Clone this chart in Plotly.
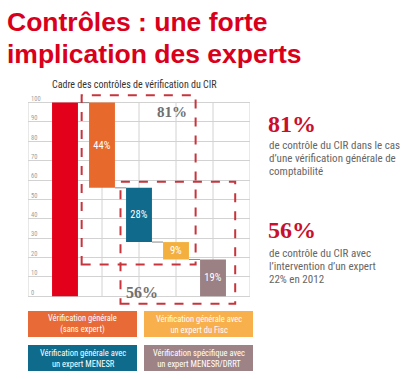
import plotly.graph_objects as go

# ---- data ----
total_label = "Total"
total_value = 100
step_labels = ["Vérification générale (sans expert)",
               "Vérification générale avec un expert MENESR",
               "Vérification générale avec un expert du Fisc",
               "Vérification spécifique avec un expert MENESR/DRRT"]
step_values = [44, 28, 9, 19]
step_text = ["44%", "28%", "9%", "19%"]
bar_colors = ["#e2001a", "#e8692c", "#0f6a8b", "#f4b03e", "#9b8084"]
y_ticks = list(range(0, 101, 10))
box1_value = "81%"
box2_value = "56%"

legend_items = [
    ("Vérification générale<br>(sans expert)", "#e86a36"),
    ("Vérification générale avec<br>un expert du Fisc", "#f7b04b"),
    ("Vérification générale avec<br>un expert MENESR", "#0e6b8c"),
    ("Vérification spécifique avec<br>un expert MENESR/DRRT", "#9d8386"),
]

# waterfall bases
x_pos = list(range(len(step_values) + 1))
lengths = [total_value] + step_values
bases = [0]
level = total_value
for i, v in enumerate(step_values):
    if i < len(step_values) - 1:
        level -= v
        bases.append(level)
    else:
        bases.append(0)
texts = [""] + step_text

# ---- layout geometry ----
W, H = 413, 379
ML, MR, MT, MB = 28, 163, 91, 74
PW = W - ML - MR
PH = H - MT - MB
def fx(px):
    return (px - ML) / PW
def fy(py):
    return (H - MB - py) / PH

NARROW = "Liberation Sans Narrow, Roboto Condensed, Arial Narrow, Roboto, sans-serif"
SERIF = "Liberation Serif, DejaVu Serif, serif"

fig = go.Figure()
fig.add_trace(go.Bar(
    x=x_pos, y=lengths, base=bases, width=0.7,
    marker=dict(color=bar_colors, line=dict(width=0)),
    text=texts, textposition="inside", insidetextanchor="middle",
    textangle=0, constraintext="none",
    textfont=dict(color="white", size=10.5, family=NARROW),
    hoverinfo="skip", showlegend=False,
))

shapes = []
GRID = "#d2d2d2"
# vertical gridlines (0..100 only)
for gx in range(-1, 6):
    shapes.append(dict(type="line", xref="x", yref="y", x0=gx, x1=gx, y0=0, y1=100,
                       line=dict(color=GRID, width=1), layer="below"))
# connectors
tops = [b + l for b, l in zip(bases, lengths)]
for i in range(len(x_pos) - 1):
    lvl = bases[i] if i > 0 else tops[i]
    shapes.append(dict(type="line", xref="x", yref="y", x0=i + 0.35, x1=i + 1.35 - 0.7,
                       y0=lvl, y1=lvl, line=dict(color="#8a8a8a", width=1)))
# dashed boxes
dash_col = "#c7343c"
shapes.append(dict(type="rect", xref="x", yref="y", x0=0.45, x1=3.53, y0=16.4, y1=103.8,
                   line=dict(color=dash_col, width=2, dash="dash")))
shapes.append(dict(type="rect", xref="x", yref="y", x0=1.5, x1=4.6, y0=-3.8, y1=59.2,
                   line=dict(color=dash_col, width=2, dash="dash")))
# legend boxes
boxes_px = [(28, 137, 311, 337), (144, 253, 311, 337), (28, 137, 345, 371), (144, 253, 345, 371)]
ann = []
for (txt, col), (x0, x1, y0, y1) in zip(legend_items, boxes_px):
    shapes.append(dict(type="rect", xref="paper", yref="paper", x0=fx(x0), x1=fx(x1),
                       y0=fy(y1), y1=fy(y0), fillcolor=col, line=dict(width=0)))
    ann.append(dict(xref="paper", yref="paper", x=fx((x0 + x1) / 2), y=fy((y0 + y1) / 2),
                    text=txt, showarrow=False, xanchor="center", yanchor="middle",
                    font=dict(color="white", size=8.5, family=NARROW)))

# box labels
ann.append(dict(xref="x", yref="y", x=2.89, y=95.3, text="<b>" + box1_value + "</b>", showarrow=False,
                font=dict(family=SERIF, size=15, color="#707070")))
ann.append(dict(xref="x", yref="y", x=2.08, y=2, text="<b>" + box2_value + "</b>", showarrow=False,
                font=dict(family=SERIF, size=16, color="#707070")))

# main title
TITLE_RED = "#d9001b"
ann.append(dict(xref="paper", yref="paper", x=fx(5), y=fy(22), xanchor="left", yanchor="middle",
                text="<b>Contrôles : une forte</b>", showarrow=False,
                font=dict(family="Liberation Sans, Arial, sans-serif", size=26.5, color=TITLE_RED)))
ann.append(dict(xref="paper", yref="paper", x=fx(5), y=fy(54), xanchor="left", yanchor="middle",
                text="<b>implication des experts</b>", showarrow=False,
                font=dict(family="Liberation Sans, Arial, sans-serif", size=26.5, color=TITLE_RED)))
# chart title
ann.append(dict(xref="paper", yref="paper", x=fx(134), y=fy(84), xanchor="center", yanchor="middle",
                text="Cadre des contrôles de vérification du CIR", showarrow=False,
                font=dict(family=NARROW, size=10, color="#333333")))

# right side texts
def right_block(y_big, big, lines, y_first):
    ann.append(dict(xref="paper", yref="paper", x=fx(266), y=fy(y_big), xanchor="left", yanchor="middle",
                    text="<b>" + big + "</b>", showarrow=False,
                    font=dict(family=SERIF, size=24, color="#c8102e")))
    for k, ln in enumerate(lines):
        ann.append(dict(xref="paper", yref="paper", x=fx(267), y=fy(y_first + 13 * k),
                        xanchor="left", yanchor="middle", text=ln, showarrow=False,
                        font=dict(family=NARROW, size=11, color="#666666")))

right_block(124, "81%", ["de contrôle du CIR dans le cas",
                         "d’une vérification générale de",
                         "comptabilité"], 145)
right_block(230, "56%", ["de contrôle du CIR avec",
                         "l’intervention d’un expert",
                         "22% en 2012"], 253)

fig.update_layout(
    width=W, height=H, margin=dict(l=ML, r=MR, t=MT, b=MB, pad=0),
    paper_bgcolor="white", plot_bgcolor="white",
    shapes=shapes, annotations=ann, showlegend=False, bargap=0.3,
    xaxis=dict(range=[-1, 5], showgrid=False, zeroline=False, showticklabels=False,
               showline=False, ticks="", fixedrange=True),
    yaxis=dict(range=[-4.5, 106], tickvals=y_ticks, ticktext=[str(t) for t in y_ticks],
               showgrid=True, gridcolor=GRID, gridwidth=1, zeroline=False,
               showline=False, ticks="", ticklabelposition="inside", ticklabelshift=-4,
               tickfont=dict(size=6.5, color="#a0a0a0", family=NARROW), fixedrange=True),
)

fig.write_html("out.html", config={"displayModeBar": False},
               post_script="document.body.style.margin='0px';document.body.style.padding='0px';")
